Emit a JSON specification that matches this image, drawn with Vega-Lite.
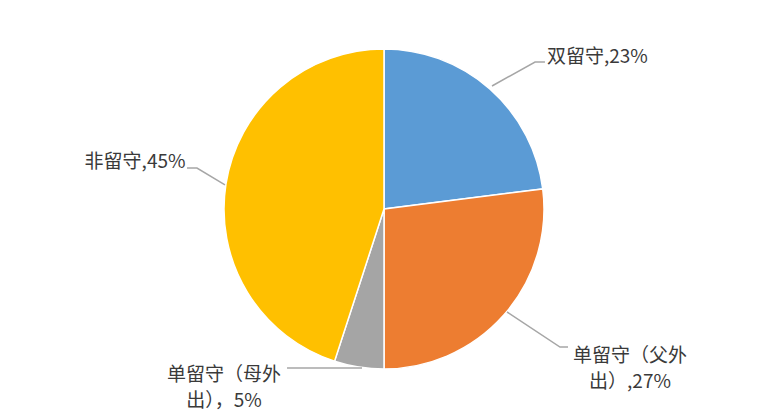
{
  "$schema": "https://vega.github.io/schema/vega-lite/v6.json",
  "width": 768,
  "height": 418,
  "autosize": {"type": "fit", "contains": "padding"},
  "padding": 0,
  "background": "white",
  "config": {"view": {"stroke": null}},
  "datasets": {
    "slices": [
      {"category": "双留守", "value": 23, "order": 1},
      {"category": "单留守（父外出）", "value": 27, "order": 2},
      {"category": "单留守（母外出）", "value": 5, "order": 3},
      {"category": "非留守", "value": 45, "order": 4}
    ],
    "leaders": [
      {"category": "双留守", "pt": 1, "u": 0.675, "v": 0.7625},
      {"category": "双留守", "pt": 2, "u": 0.944, "v": 0.9125},
      {"category": "双留守", "pt": 3, "u": 1.006, "v": 0.9125},
      {"category": "单留守（父外出）", "pt": 1, "u": 0.769, "v": -0.65},
      {"category": "单留守（父外出）", "pt": 2, "u": 1.1, "v": -0.869},
      {"category": "单留守（父外出）", "pt": 3, "u": 1.15, "v": -0.869},
      {"category": "单留守（母外出）", "pt": 1, "u": -0.1375, "v": -1.0},
      {"category": "单留守（母外出）", "pt": 2, "u": -0.606, "v": -1.0},
      {"category": "非留守", "pt": 1, "u": -0.994, "v": 0.144},
      {"category": "非留守", "pt": 2, "u": -1.169, "v": 0.25},
      {"category": "非留守", "pt": 3, "u": -1.231, "v": 0.25}
    ],
    "labels": [
      {"category": "双留守", "label": "双留守,23%", "u": 1.334, "v": 0.944},
      {"category": "单留守（父外出）", "label": "单留守（父外\n出）,27%", "u": 1.5375, "v": -0.925},
      {"category": "单留守（母外出）", "label": "单留守（母外\n出），5%", "u": -1.0, "v": -1.04375},
      {"category": "非留守", "label": "非留守,45%", "u": -1.556, "v": 0.2875}
    ]
  },
  "layer": [
    {
      "data": {"name": "slices"},
      "mark": {"type": "arc", "outerRadius": 160, "stroke": "white", "strokeWidth": 1.5},
      "encoding": {
        "theta": {"field": "value", "type": "quantitative", "stack": true},
        "order": {"field": "order", "type": "quantitative"},
        "color": {
          "field": "category",
          "type": "nominal",
          "scale": {
            "domain": ["双留守", "单留守（父外出）", "单留守（母外出）", "非留守"],
            "range": ["#5B9BD5", "#ED7D31", "#A5A5A5", "#FFC000"]
          },
          "legend": null
        }
      }
    },
    {
      "data": {"name": "leaders"},
      "mark": {"type": "line", "color": "#A6A6A6", "strokeWidth": 1.5},
      "encoding": {
        "x": {"field": "u", "type": "quantitative", "scale": {"domain": [-2.4, 2.4], "nice": false, "zero": false}, "axis": null},
        "y": {"field": "v", "type": "quantitative", "scale": {"domain": [-1.3125, 1.3], "nice": false, "zero": false}, "axis": null},
        "detail": {"field": "category"},
        "order": {"field": "pt", "type": "quantitative"}
      }
    },
    {
      "data": {"name": "labels"},
      "mark": {"type": "text", "font": "Noto Sans CJK SC", "fontSize": 19, "color": "#3a3a3a", "align": "center", "baseline": "middle", "lineBreak": "\n", "lineHeight": 26},
      "encoding": {
        "x": {"field": "u", "type": "quantitative", "scale": {"domain": [-2.4, 2.4], "nice": false, "zero": false}, "axis": null},
        "y": {"field": "v", "type": "quantitative", "scale": {"domain": [-1.3125, 1.3], "nice": false, "zero": false}, "axis": null},
        "text": {"field": "label"}
      }
    }
  ]
}
